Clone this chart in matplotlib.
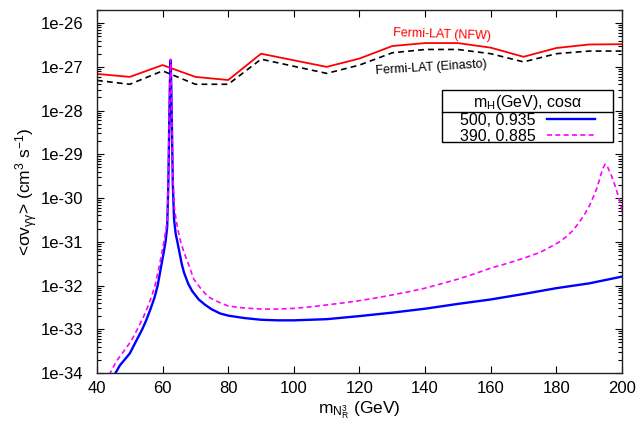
import numpy as np
import matplotlib
matplotlib.use("Agg")
import matplotlib.pyplot as plt
from matplotlib.lines import Line2D
from matplotlib.patches import Rectangle

plt.rcParams["font.family"] = ["Liberation Sans", "DejaVu Sans"]
plt.rcParams["mathtext.fontset"] = "custom"
plt.rcParams["mathtext.rm"] = "Liberation Sans"
plt.rcParams["mathtext.it"] = "Liberation Sans:italic"
plt.rcParams["mathtext.default"] = "regular"

# ----------------------------
# Limites Fermi-LAT (líneas gamma)
# ----------------------------
m_fermi = [40, 50, 60, 70, 80, 90, 110, 120, 130, 140, 150, 160, 170, 180, 190, 200]
sv_nfw = [6.9e-28, 5.9e-28, 1.1e-27, 5.9e-28, 5.0e-28, 2.0e-27, 1.0e-27, 1.55e-27,
          3.0e-27, 3.5e-27, 3.5e-27, 2.75e-27, 1.7e-27, 2.7e-27, 3.25e-27, 3.3e-27]
sv_einasto = [4.9e-28, 4.0e-28, 8.1e-28, 4.0e-28, 4.0e-28, 1.5e-27, 7.1e-28, 1.1e-27,
              2.1e-27, 2.5e-27, 2.5e-27, 2.0e-27, 1.3e-27, 2.0e-27, 2.3e-27, 2.3e-27]

# ----------------------------
# <σv>_γγ para m_H = 500 GeV, cosα = 0.935
# ----------------------------
m_a = [45.3, 47, 50, 52, 53.8, 55, 56.2, 57.5, 58.5, 59.5, 60.3, 60.9, 61.4,
       61.75, 62.05, 62.25, 62.45, 62.6, 62.8, 63.1, 63.5, 64.0, 64.5, 65.8,
       66.5, 67.8, 69, 71, 73, 75, 77.5, 80, 85, 90, 95, 100, 110, 120, 130,
       140, 150, 160, 170, 180, 190, 200]
sv_a = [9.0e-35, 1.5e-34, 2.8e-34, 5.5e-34, 1.0e-33, 1.6e-33, 2.75e-33, 5.2e-33,
        1.0e-32, 2.6e-32, 5.5e-32, 1.0e-31, 2.2e-31, 2.2e-30, 7.2e-29, 5.0e-28,
        1.43e-27, 5.0e-28, 7.2e-29, 2.2e-30, 3.2e-31, 1.5e-31, 1.0e-31, 3.2e-32,
        2.0e-32, 1.1e-32, 7.5e-33, 4.8e-33, 3.6e-33, 2.85e-33, 2.3e-33, 2.05e-33,
        1.8e-33, 1.65e-33, 1.6e-33, 1.6e-33, 1.7e-33, 2.0e-33, 2.4e-33, 2.95e-33,
        3.8e-33, 4.8e-33, 6.4e-33, 8.7e-33, 1.12e-32, 1.6e-32]

# ----------------------------
# <σv>_γγ para m_H = 390 GeV, cosα = 0.885
# ----------------------------
m_b = [43.7, 46, 48.5, 50.5, 52.3, 54, 55.5, 56.7, 57.7, 59, 60.4, 61.0, 61.5,
       61.75, 62.05, 62.25, 62.45, 62.6, 62.8, 63.1, 63.6, 64.1, 64.8, 65.5,
       66.6, 67.8, 69.5, 71.4, 73, 74.5, 77, 80, 85, 90, 95, 100, 105, 110, 115,
       120, 125, 130, 135, 140, 145, 150, 155, 160, 165, 170, 175, 178, 181,
       183, 185, 187, 188.8, 190, 191.3, 192.5, 193.4, 194.2, 194.9, 195.6,
       196.9, 197.8, 198.6, 199.3, 200]
sv_b = [9.0e-35, 1.9e-34, 3.4e-34, 5.5e-34, 1.0e-33, 1.8e-33, 3.3e-33, 5.8e-33,
        1.0e-32, 2.8e-32, 1.0e-31, 1.9e-31, 3.5e-31, 3.5e-30, 1.0e-28, 6.0e-28,
        1.5e-27, 6.0e-28, 1.0e-28, 3.5e-30, 6.0e-31, 3.2e-31, 1.7e-31, 1.0e-31,
        5.5e-32, 3.2e-32, 1.4e-32, 9.0e-33, 6.5e-33, 5.2e-33, 4.2e-33, 3.4e-33,
        3.05e-33, 2.9e-33, 2.9e-33, 3.0e-33, 3.25e-33, 3.6e-33, 4.0e-33, 4.5e-33,
        5.2e-33, 6.1e-33, 7.2e-33, 8.7e-33, 1.1e-32, 1.4e-32, 1.85e-32, 2.5e-32,
        3.2e-32, 4.2e-32, 5.7e-32, 7.5e-32, 1.0e-31, 1.3e-31, 1.8e-31, 2.8e-31,
        4.5e-31, 6.5e-31, 1.07e-30, 1.8e-30, 3.1e-30, 4.8e-30, 6.0e-30, 5.2e-30,
        3.1e-30, 2.0e-30, 1.3e-30, 8.5e-31, 5.3e-31]

xticks = [40, 60, 80, 100, 120, 140, 160, 180, 200]
yticks = [1e-34, 1e-33, 1e-32, 1e-31, 1e-30, 1e-29, 1e-28, 1e-27, 1e-26]
ytick_labels = ["1e-34", "1e-33", "1e-32", "1e-31", "1e-30", "1e-29", "1e-28",
                "1e-27", "1e-26"]

fig = plt.figure(figsize=(6.41, 4.32), dpi=100)
ax = fig.add_axes([0.1513, 0.1366, 0.819, 0.8403])

ax.plot(m_fermi, sv_nfw, color="#ff0000", lw=1.3)
ax.plot(m_fermi, sv_einasto, color="black", lw=1.2, ls=(0, (3.5, 2.5)))
ax.plot(m_a, sv_a, color="#0000ff", lw=1.7, label="500, 0.935")
ax.plot(m_b, sv_b, color="#ff00ff", lw=1.2, ls=(0, (3, 2)), label="390, 0.885")

ax.set_yscale("log")
ax.set_xlim(40, 200)
ax.set_ylim(1e-34, 2e-26)
ax.set_xticks(xticks)
ax.set_xticklabels([str(t) for t in xticks])
ax.set_yticks(yticks)
ax.set_yticklabels(ytick_labels)
ax.tick_params(which="both", direction="in", top=True, right=True, labelsize=12)
ax.tick_params(which="major", length=5, width=0.8)
ax.tick_params(which="minor", length=3, width=0.8)
ax.tick_params(axis="y", pad=10)
ax.tick_params(axis="x", pad=6)
for sp in ax.spines.values():
    sp.set_linewidth(1.0)
    sp.set_color("#222222")

ax.set_xlabel(r"m$_{\mathrm{N}_\mathrm{R}^3}$ (GeV)", fontsize=12.5, labelpad=2)
ax.set_ylabel(r"<σv$_{γγ}$> (cm$^3$ s$^{-1}$)", fontsize=12.5, labelpad=0)

ax.text(145.1, 5.3e-27, "Fermi-LAT (NFW)", color="#ff0000", fontsize=9,
        ha="center", va="center", rotation=-2)
ax.text(141.8, 9.4e-28, "Fermi-LAT (Einasto)", color="black", fontsize=9,
        ha="center", va="center", rotation=3.5)

# leyenda tipo gnuplot: caja con encabezado separado
lx, ly, lw_, lh = 0.657, 0.636, 0.326, 0.144
leg = ax.legend(title=r"m$_\mathrm{H}$(GeV), cosα", loc="upper center",
                bbox_to_anchor=(lx, ly, lw_, lh), fontsize=11.5,
                title_fontsize=11.5, markerfirst=False, frameon=False,
                borderpad=0.2, labelspacing=0.05, handlelength=3.0,
                handletextpad=0.7, borderaxespad=0)
ax.add_patch(Rectangle((lx, ly), lw_, lh, transform=ax.transAxes, fill=False,
                       edgecolor="black", lw=1.0, zorder=6))
ax.add_line(Line2D([lx, lx + lw_], [0.720, 0.720], transform=ax.transAxes,
                   color="black", lw=1.0, zorder=6))

fig.savefig("out.png", dpi=100)
